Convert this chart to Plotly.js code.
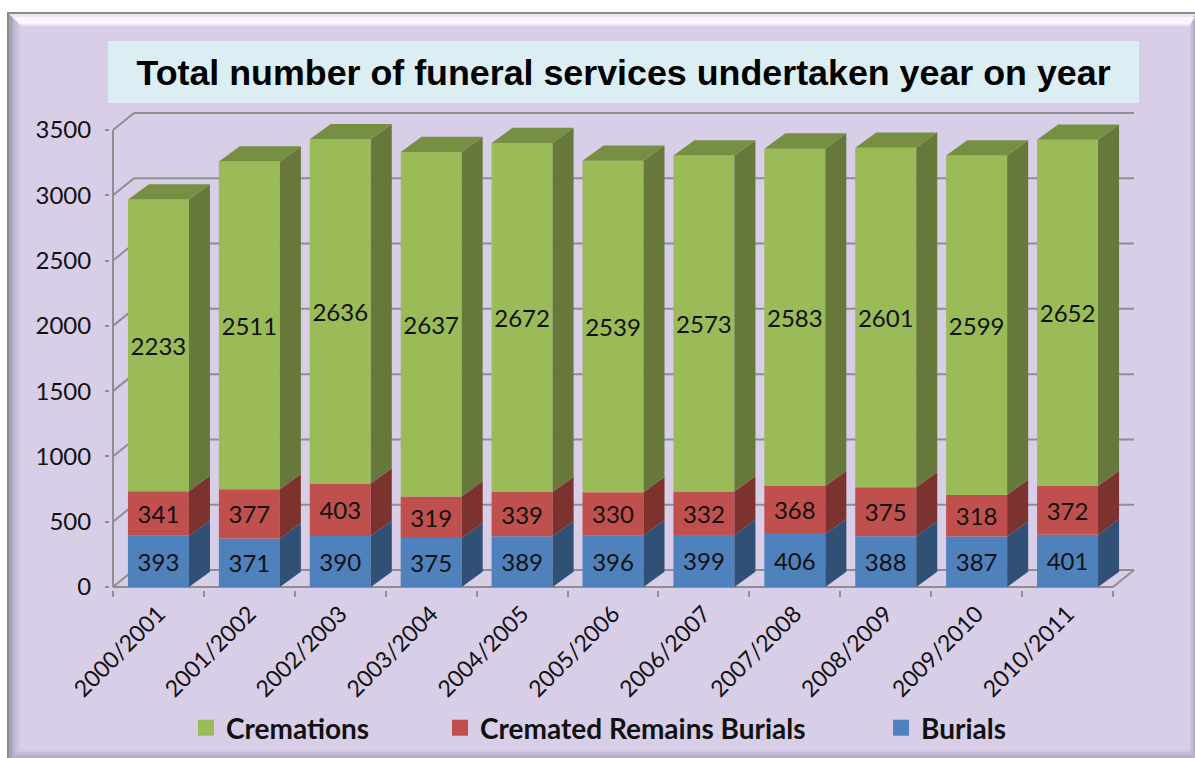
<!DOCTYPE html>
<html><head><meta charset="utf-8">
<script src="https://cdn.plot.ly/plotly-3.0.1.min.js"></script>
<style>html,body{margin:0;padding:0;background:#fff}#chart{width:1195px;height:758px}</style>
</head><body><div id="chart"></div>
<script>
const seasons = ["2000/2001","2001/2002","2002/2003","2003/2004","2004/2005","2005/2006","2006/2007","2007/2008","2008/2009","2009/2010","2010/2011"];
const burials = [393,371,390,375,389,396,399,406,388,387,401];
const crematedRemains = [341,377,403,319,339,330,332,368,375,318,372];
const cremations = [2233,2511,2636,2637,2672,2539,2573,2583,2601,2599,2652];
const yTicks = [0,500,1000,1500,2000,2500,3000,3500];

const W=1195,H=758;
const L=110,R=1140,T=105,B=590;        // plot window in page pixels
const x0Px=113,catPx=90.91,y0Px=587,kY=457/3500; // axis scale
const xr=[-0.5-(x0Px-L)/catPx,-0.5+(R-x0Px)/catPx];
const yr=[-(B-y0Px)/kY,(y0Px-T)/kY];
const barW=0.671, dxBar=21/catPx, dyBar=15.3/kY, dxWall=21/catPx, dyWall=17/kY;
const px=v=>v/W, py=v=>1-v/H;
const idx=seasons.map((_,i)=>i);

const colors={crem:'#9BBB59',rem:'#C0504D',bur:'#4F81BD',cremS:'#66793B',remS:'#7C322F',burS:'#305075',cremT:'#778F42'};
const fontLabel='Lato, "Open Sans", sans-serif';

function bar(name,vals,base,color){
  return {type:'bar',name,x:idx,y:vals,base,width:barW,marker:{color,line:{width:0}},
    text:vals.map(String),textposition:'inside',insidetextanchor:'middle',textangle:0,constraintext:'none',
    textfont:{family:fontLabel,size:24,color:'#111'},showlegend:false,hoverinfo:'name+y'};
}
function side(vals,base,color){
  const X=[],Y=[];
  vals.forEach((v,i)=>{const a=i+barW/2,b=base[i],t=b+v;
    X.push(a,a+dxBar,a+dxBar,a,a,null);Y.push(b,b+dyBar,t+dyBar,t,b,null);});
  return {type:'scatter',mode:'none',x:X,y:Y,fill:'toself',fillcolor:color,showlegend:false,hoverinfo:'skip'};
}
function topFace(vals,base,color){
  const X=[],Y=[];
  vals.forEach((v,i)=>{const a=i-barW/2,c=i+barW/2,t=base[i]+v;
    X.push(a,c,c+dxBar,a+dxBar,a,null);Y.push(t,t,t+dyBar,t+dyBar,t,null);});
  return {type:'scatter',mode:'none',x:X,y:Y,fill:'toself',fillcolor:color,showlegend:false,hoverinfo:'skip'};
}
function legendKey(name,color,lg){
  return {type:'scatter',mode:'markers',name,x:[null],y:[null],legend:lg,showlegend:true,
    marker:{symbol:'square',size:16,color}};
}
const base0=burials.map(()=>0), base1=burials.slice(), base2=burials.map((v,i)=>v+crematedRemains[i]);
const traces=[
  bar('Burials',burials,base0,colors.bur),
  bar('Cremated Remains Burials',crematedRemains,base1,colors.rem),
  bar('Cremations',cremations,base2,colors.crem),
  side(burials,base0,colors.burS),
  side(crematedRemains,base1,colors.remS),
  side(cremations,base2,colors.cremS),
  topFace(cremations,base2,colors.cremT),
  legendKey('Cremations',colors.crem,'legend'),
  legendKey('Cremated Remains Burials',colors.rem,'legend2'),
  legendKey('Burials',colors.bur,'legend3')
];

const gray='#8E8E8E';
const ln=(x0,y0,x1,y1,w)=>({type:'line',xref:'x',yref:'y',x0,y0,x1,y1,layer:'below',line:{color:gray,width:w||2}});
const shapes=[];
function poly(pts,fill){
  const path=pts.map((p,i)=>(i?'L':'M')+px(p[0])+','+py(p[1])).join(' ')+' Z';
  shapes.push({type:'path',xref:'paper',yref:'paper',path,fillcolor:fill,line:{width:0},layer:'below'});
}
// panel with bevelled edges: nested rectangles for left/right/bottom, strips for the top
poly([[7,12],[1195,12],[1195,758],[7,758]],'#8C8C8C');
poly([[9,14],[1195,14],[1195,758],[9,758]],'#A6A2B2');
poly([[12,14],[1195,14],[1195,758],[12,758]],'#B5AEC6');
poly([[14,14],[1193,14],[1193,755],[14,755]],'#C4BBD5');
poly([[17,14],[1191,14],[1191,752],[17,752]],'#D1C7E1');
poly([[20,14],[1190,14],[1190,750],[20,750]],'#D9CEE8');
poly([[9,14],[1195,14],[1190,26],[21,26]],'#EDE6F6');
poly([[13,17],[1195,17],[1190,24],[20,24]],'#FBF7FF');
// title box
poly([[108,41],[1139,41],[1139,103],[108,103]],'#DAEEF3');
// walls and floor
yTicks.forEach(v=>{
  shapes.push(ln(-0.5,v,-0.5+dxWall,v+dyWall));
  shapes.push(ln(-0.5+dxWall,v+dyWall,10.5+dxWall,v+dyWall));
});
shapes.push(ln(10.5,0,10.5+dxWall,dyWall));
shapes.push(ln(-0.5,0,10.5,0));
shapes.push(ln(-0.5,0,-0.5,3500));

const lgBase={orientation:'h',yanchor:'middle',xanchor:'left',bgcolor:'rgba(0,0,0,0)',borderwidth:0,itemsizing:'trace',
  font:{family:fontLabel,size:28,weight:700,color:'#111'}};
const layout={
  width:W,height:H,autosize:false,
  margin:{l:0,r:0,t:0,b:0,pad:0},
  paper_bgcolor:'#FFFFFF',plot_bgcolor:'rgba(0,0,0,0)',
  barmode:'overlay',
  title:{text:'Total number of funeral services undertaken year on year',
    font:{family:'"Liberation Sans", Arial, sans-serif',size:35.8,weight:700,color:'#000'},
    xref:'container',yref:'container',x:623.5/W,y:1-72/H,xanchor:'center',yanchor:'middle'},
  xaxis:{domain:[L/W,R/W],range:xr,tickmode:'array',tickvals:idx,ticktext:seasons,ticks:'',tickangle:-45,
    ticklabelstandoff:5,tickfont:{family:fontLabel,size:23,color:'#111'},showgrid:false,zeroline:false,showline:false,automargin:false,
    minor:{tickmode:'array',tickvals:[-0.5,0.5,1.5,2.5,3.5,4.5,5.5,6.5,7.5,8.5,9.5,10.5],ticks:'outside',ticklen:6,tickwidth:2,tickcolor:gray,showgrid:false}},
  yaxis:{domain:[1-B/H,1-T/H],range:yr,tickmode:'array',tickvals:yTicks,ticktext:yTicks.map(String),ticks:'outside',ticklen:4,tickwidth:2,tickcolor:gray,
    ticklabelstandoff:9,tickfont:{family:fontLabel,size:24,color:'#111'},showgrid:false,zeroline:false,showline:false,automargin:false},
  shapes,
  showlegend:true,
  legend:Object.assign({},lgBase,{x:px(186),y:py(728)}),
  legend2:Object.assign({},lgBase,{x:px(440),y:py(728)}),
  legend3:Object.assign({},lgBase,{x:px(881),y:py(728)})
};
Plotly.newPlot('chart',traces,layout,{displayModeBar:false,responsive:false});
</script></body></html>
